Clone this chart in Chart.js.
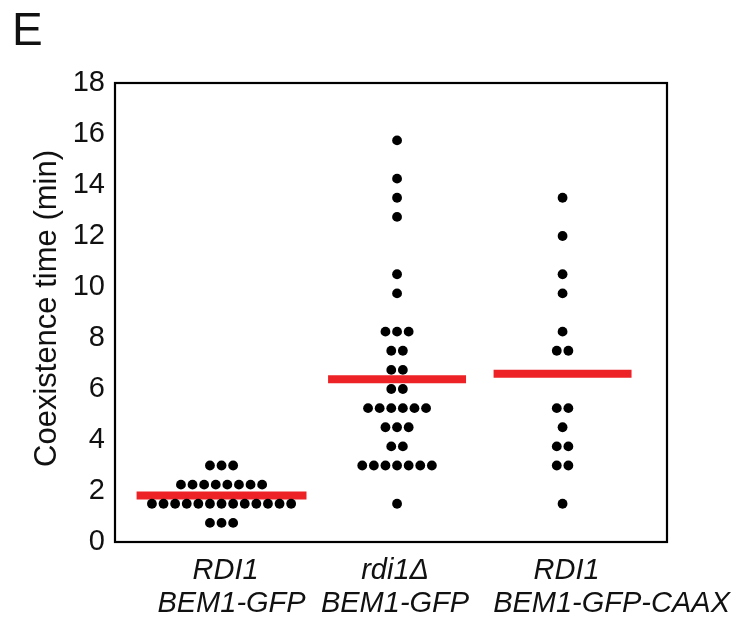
<!DOCTYPE html>
<html>
<head>
<meta charset="utf-8">
<script src="https://cdn.jsdelivr.net/npm/chart.js@4"></script>
<style>
  html, body { margin: 0; padding: 0; background: #fff; }
  #wrap { width: 737px; height: 622px; }
</style>
</head>
<body>
<div id="wrap"><canvas id="coexChart" width="737" height="622"></canvas></div>
<script>
// strains
var labelsTop = ["RDI1", "rdi1\u0394", "RDI1"];
var labelsBottom = ["BEM1-GFP", "BEM1-GFP", "BEM1-GFP-CAAX"];
var groupPos = [0, 1, 1.943];

// coexistence times (min), one entry per cell
var timesRdi1 = [3, 3, 3,
  2.25, 2.25, 2.25, 2.25, 2.25, 2.25, 2.25, 2.25,
  1.5, 1.5, 1.5, 1.5, 1.5, 1.5, 1.5, 1.5, 1.5, 1.5, 1.5, 1.5, 1.5,
  0.75, 0.75, 0.75];
var timesRdi1Del = [15.75, 14.25, 13.5, 12.75, 10.5, 9.75,
  8.25, 8.25, 8.25, 7.5, 7.5, 6.75, 6.75, 6, 6,
  5.25, 5.25, 5.25, 5.25, 5.25, 5.25, 4.5, 4.5, 4.5, 3.75, 3.75,
  3, 3, 3, 3, 3, 3, 3, 1.5];
var timesCaax = [13.5, 12, 10.5, 9.75, 8.25, 7.5, 7.5,
  5.25, 5.25, 4.5, 3.75, 3.75, 3, 3, 1.5];
var meanTimes = [1.82, 6.38, 6.6];

var yTicks = [0, 2, 4, 6, 8, 10, 12, 14, 16, 18];

var dotStep = 0.0661;
var meanHalf = [0.484, 0.393, 0.393];
var FONT = "'Liberation Sans', Arial, Helvetica, sans-serif";

// lay dots of equal value side by side, centred on the group
function swarm(values, center) {
  var counts = {};
  values.forEach(function(v) { counts[v] = (counts[v] || 0) + 1; });
  var pts = [];
  Object.keys(counts).forEach(function(k) {
    var n = counts[k];
    for (var i = 0; i < n; i++) {
      pts.push({ x: center + (i - (n - 1) / 2) * dotStep, y: parseFloat(k) });
    }
  });
  return pts;
}

var allTimes = [timesRdi1, timesRdi1Del, timesCaax];
var datasets = [];

for (let i = 0; i < allTimes.length; i++) {
  datasets.push({
    type: "scatter",
    data: swarm(allTimes[i], groupPos[i]),
    backgroundColor: "#000",
    borderWidth: 0,
    pointRadius: 4.9,
    pointHoverRadius: 4.9,
  });
  datasets.push({
    type: "line",
    data: [
      { x: groupPos[i] - meanHalf[i], y: meanTimes[i] },
      { x: groupPos[i] + meanHalf[i], y: meanTimes[i] },
    ],
    borderColor: "#ec2227",
    borderWidth: 8,
    borderCapStyle: "butt",
    pointRadius: 0,
    fill: false,
  });
}

// frame, axis title, strain names and panel letter
var decorations = {
  id: "decorations",
  afterDraw: function(chart) {
    var ctx = chart.ctx;
    var a = chart.chartArea;
    var xs = chart.scales.x;
    ctx.save();
    ctx.strokeStyle = "#000";
    ctx.lineWidth = 2.2;
    ctx.strokeRect(a.left, a.top, a.right - a.left, a.bottom - a.top);

    ctx.fillStyle = "#111";
    ctx.font = "46px " + FONT;
    ctx.textAlign = "left";
    ctx.textBaseline = "alphabetic";
    ctx.fillText("E", 12, 45);

    ctx.font = "31px " + FONT;
    ctx.textAlign = "center";
    ctx.textBaseline = "middle";
    ctx.translate(47, (a.top + a.bottom) / 2 - 4);
    ctx.rotate(-Math.PI / 2);
    ctx.fillText("Coexistence time (min)", 0, 0);
    ctx.setTransform(1, 0, 0, 1, 0, 0);

    var shiftTop = [4, -2, 4];
    var shiftBottom = [10, -2, 49];
    ctx.font = "italic 29px " + FONT;
    for (let i = 0; i < labelsTop.length; i++) {
      var px = xs.getPixelForValue(groupPos[i]);
      ctx.fillText(labelsTop[i], px + shiftTop[i], 571);
      ctx.fillText(labelsBottom[i], px + shiftBottom[i], 604);
    }
    ctx.restore();
  },
};

const configCoex = {
  data: { datasets: datasets },
  options: {
    responsive: false,
    animation: false,
    events: [],
    layout: { padding: { top: 83, right: 70, left: 0, bottom: 0 } },
    plugins: {
      legend: { display: false },
      tooltip: { enabled: false },
    },
    scales: {
      x: {
        type: "linear",
        min: -0.607,
        max: 2.538,
        grid: { display: false, drawTicks: false },
        border: { display: false },
        ticks: { display: false },
        afterFit: function(s) { s.height = 80; },
      },
      y: {
        type: "linear",
        min: 0,
        max: 18,
        grid: { display: false, drawTicks: false },
        border: { display: false },
        afterBuildTicks: function(s) {
          s.ticks = yTicks.map(function(v) { return { value: v }; });
        },
        ticks: {
          color: "#111",
          padding: 10,
          font: { family: FONT, size: 29 },
        },
        afterFit: function(s) { s.width = 115; },
      },
    },
  },
  plugins: [decorations],
};

var coexChart = new Chart(document.getElementById("coexChart"), configCoex);
</script>
</body>
</html>
